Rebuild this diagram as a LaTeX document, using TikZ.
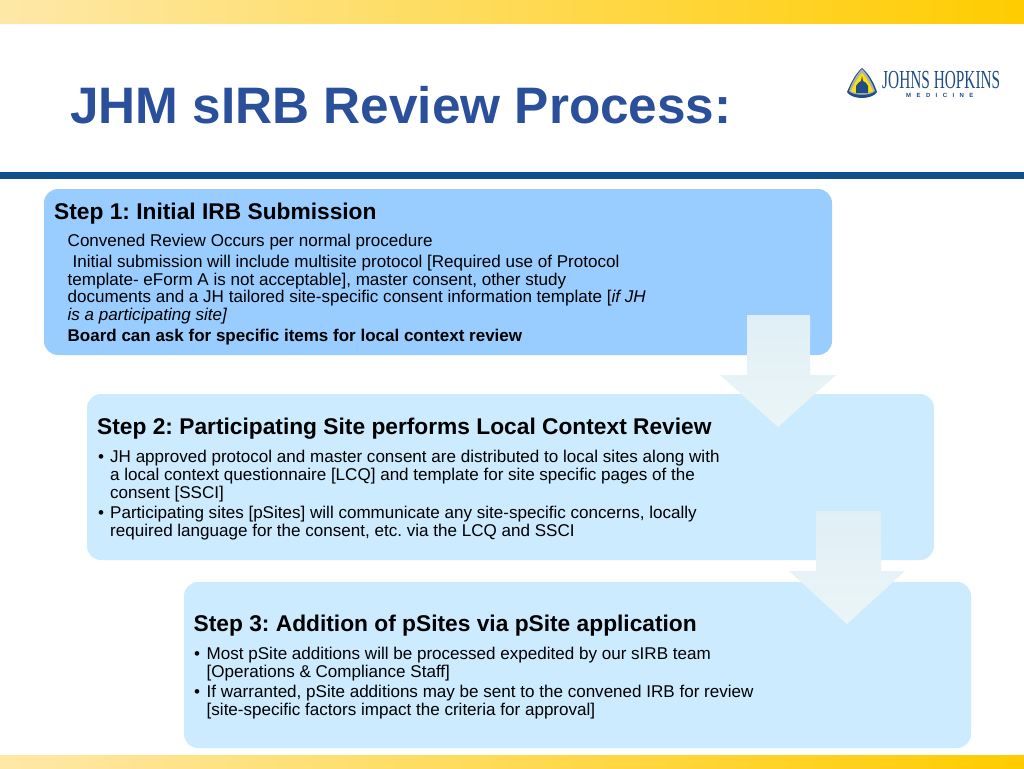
\documentclass[tikz,border=0pt]{standalone}
\usepackage{fontspec}
\setmainfont{Liberation Sans}
\newfontfamily\logofont{Liberation Serif}
\frenchspacing
\definecolor{hopblue}{HTML}{2A4F9B}
\definecolor{rulecol}{HTML}{0F4F8C}
\definecolor{boxa}{HTML}{99CCFF}
\definecolor{boxb}{HTML}{CCEBFF}
\definecolor{arrowtop}{HTML}{E0EFF6}
\definecolor{arrowbot}{HTML}{EBF5F6}
\definecolor{logoblue}{HTML}{1F4E86}
\definecolor{bandlight}{HTML}{FEE8A8}
\definecolor{banddark}{HTML}{FFCC00}
\tikzset{
  x=1pt,y=-1pt,
  stepbox/.style={rounded corners=14pt,fill=#1,draw=none},
  steparrow/.style={draw=none,top color=arrowtop,bottom color=arrowbot},
  head/.style={anchor=base west,inner sep=0pt,font=\fontsize{22.75}{23}\selectfont\bfseries\frenchspacing,text=black},
  body/.style={anchor=base west,inner sep=0pt,font=\fontsize{17.05}{18}\selectfont\frenchspacing,text=black},
  boldbody/.style={body,font=\fontsize{17}{18}\selectfont\bfseries\frenchspacing},
  band/.style={draw=none,left color=bandlight,right color=banddark},
}
\begin{document}
\begin{tikzpicture}
\useasboundingbox (0,0) rectangle (1024,768);
\fill[white] (0,0) rectangle (1024,768);
% bands
\shade[band] (0,0) rectangle (1024,24);
\shade[band] (0,755) rectangle (1024,768);
\fill[rulecol] (0,172) rectangle (1024,179);
% title
\node[anchor=base west,inner sep=0pt,text=hopblue,font=\fontsize{51.3}{52}\selectfont\bfseries] (title) at (70,123) {JHM sIRB Review Process:};
% logo
\fill[logoblue] (862,68) .. controls (855,74) and (851,83) .. (847,92) .. controls (852,100) and (872,100) .. (877,92) .. controls (874,83) and (869,74) .. (862,68) -- cycle;
\fill[gray!60!white] (862,69) .. controls (856,75) and (852,83) .. (849,91) .. controls (853,96) and (871,96) .. (875,91) .. controls (872,83) and (868,75) .. (862,69) -- cycle;
\fill[yellow!85!orange] (862,73) .. controls (857,78) and (854,85) .. (851,91) .. controls (856,94) and (868,94) .. (873,91) .. controls (870,85) and (867,78) .. (862,73) -- cycle;
\fill[logoblue] (856,93) -- (856,86) .. controls (857,83) and (860,82) .. (861,81) -- (862,76) -- (863,81) .. controls (865,82) and (867,83) .. (868,86) -- (868,93) -- cycle;
\node[anchor=base west,inner sep=0pt,text=logoblue] (logotext) at (882,88) {\logofont\scalebox{0.59}[1]{\fontsize{26}{26}\selectfont JOHNS HOPKINS}};
\node[anchor=base west,inner sep=0pt,text=logoblue,font=\fontsize{6}{7}\selectfont\bfseries] (logosub) at (906,97) {M\hspace{5.4pt}E\hspace{5.4pt}D\hspace{5.4pt}I\hspace{5.4pt}C\hspace{5.4pt}I\hspace{5.4pt}N\hspace{5.4pt}E};
% boxes
\fill[stepbox=boxa] (44,189) rectangle (832,355);
\fill[stepbox=boxb] (87,394) rectangle (934,560);
\fill[stepbox=boxb] (184,582) rectangle (971,748);
% arrows
\shade[steparrow] (747,315) -- (810,315) -- (810,375) -- (836,375) -- (778,427) -- (720,375) -- (747,375) -- cycle;
\shade[steparrow] (816,511) -- (881,511) -- (881,571) -- (905,571) -- (847,624) -- (789,571) -- (816,571) -- cycle;
% step 1
\node[head] (h1) at (54,219) {Step 1: Initial IRB Submission};
\node[body] (a1) at (67.5,246) {Convened Review Occurs per normal procedure};
\node[body] (a2) at (72.5,267) {Initial submission will include multisite protocol [Required use of Protocol};
\node[body] (a3) at (67.5,285) {template- eForm A is not acceptable], master consent, other study};
\node[body] (a4) at (67.5,302) {documents and a JH tailored site-specific consent information template [\textit{if JH}};
\node[body] (a5) at (67.5,320) {\textit{is a participating site]}};
\node[boldbody] (a6) at (67.5,341) {Board can ask for specific items for local context review};
% step 2
\node[head] (h2) at (97,434) {Step 2: Participating Site performs Local Context Review};
\node[body] (b0) at (98,462) {•};
\node[body] (b1) at (110,462) {JH approved protocol and master consent are distributed to local sites along with};
\node[body] (b2) at (110,480) {a local context questionnaire [LCQ] and template for site specific pages of the};
\node[body] (b3) at (110,498) {consent [SSCI]};
\node[body] (b4) at (98,518) {•};
\node[body] (b5) at (110,518) {Participating sites [pSites] will communicate any site-specific concerns, locally};
\node[body] (b6) at (110,536) {required language for the consent, etc. via the LCQ and SSCI};
% step 3
\node[head] (h3) at (193.5,631) {Step 3: Addition of pSites via pSite application};
\node[body] (c0) at (194,659) {•};
\node[body] (c1) at (206.5,659) {Most pSite additions will be processed expedited by our sIRB team};
\node[body] (c2) at (206.5,677) {[Operations \& Compliance Staff]};
\node[body] (c3) at (194,697) {•};
\node[body] (c4) at (206.5,697) {If warranted, pSite additions may be sent to the convened IRB for review};
\node[body] (c5) at (206.5,715) {[site-specific factors impact the criteria for approval]};
\end{tikzpicture}
\end{document}
